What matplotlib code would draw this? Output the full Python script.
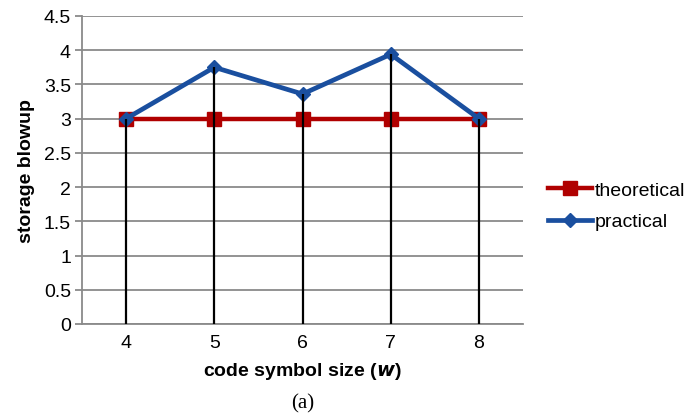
import matplotlib
matplotlib.use("Agg")
import matplotlib.pyplot as plt

plt.rcParams['font.family'] = ['Liberation Sans', 'DejaVu Sans']

# Data
symbol_sizes = ["4", "5", "6", "7", "8"]
theoretical = [3, 3, 3, 3, 3]
practical = [3.0, 3.75, 3.36, 3.94, 3.0]
y_ticks = [0, 0.5, 1, 1.5, 2, 2.5, 3, 3.5, 4, 4.5]
y_tick_labels = ["0", "0.5", "1", "1.5", "2", "2.5", "3", "3.5", "4", "4.5"]

fig = plt.figure(figsize=(6.99, 4.14), dpi=100)
ax = fig.add_axes([0.1173, 0.215, 0.631, 0.744])

x = list(range(len(symbol_sizes)))

red = "#b00000"
blue = "#1a4f9f"
grid = "#8a8a8a"
fs = 14

ax.plot(x, theoretical, color=red, lw=3.2, marker="s", ms=10,
        markerfacecolor=red, markeredgecolor=red, label="theoretical", zorder=3)
ax.plot(x, practical, color=blue, lw=3.4, marker="D", ms=7,
        markerfacecolor=blue, markeredgecolor=blue, label="practical", zorder=4)

# drop lines from the highest point of each category down to the axis
tops = [max(a, b) for a, b in zip(theoretical, practical)]
ax.vlines(x, 0, tops, color="black", lw=1.6, zorder=5)

ax.set_xlim(-0.5, len(symbol_sizes) - 0.5)
ax.set_ylim(0, 4.5)
ax.set_xticks(x)
ax.set_xticklabels(symbol_sizes, fontsize=fs)
ax.set_yticks(y_ticks)
ax.set_yticklabels(y_tick_labels, fontsize=fs)

ax.yaxis.grid(True, color=grid, lw=1.3, zorder=0)
ax.set_axisbelow(True)
for side in ["top", "right"]:
    ax.spines[side].set_visible(False)
ax.spines["left"].set_color(grid)
ax.spines["left"].set_linewidth(1.3)
ax.spines["bottom"].set_color(grid)
ax.spines["bottom"].set_linewidth(1.3)
ax.tick_params(axis="y", length=5, width=1.3, color=grid, pad=3)
ax.tick_params(axis="x", length=0, pad=7)

ax.set_ylabel("storage blowup", fontsize=fs, fontweight="bold", labelpad=6)
ax.set_xlabel(r"code symbol size ($\boldsymbol{w}$)", fontsize=fs,
              fontweight="bold", labelpad=7)

leg = fig.legend(loc="center left", bbox_to_anchor=(0.784, 0.5), frameon=False,
                 fontsize=fs, handlelength=2.25, handletextpad=0.15,
                 labelspacing=0.7, borderpad=0, borderaxespad=0)

fig.text(0.433, 0.024, "(a)", fontsize=15, family="Liberation Serif",
         ha="center", va="center")

fig.savefig("out.png", dpi=100)
